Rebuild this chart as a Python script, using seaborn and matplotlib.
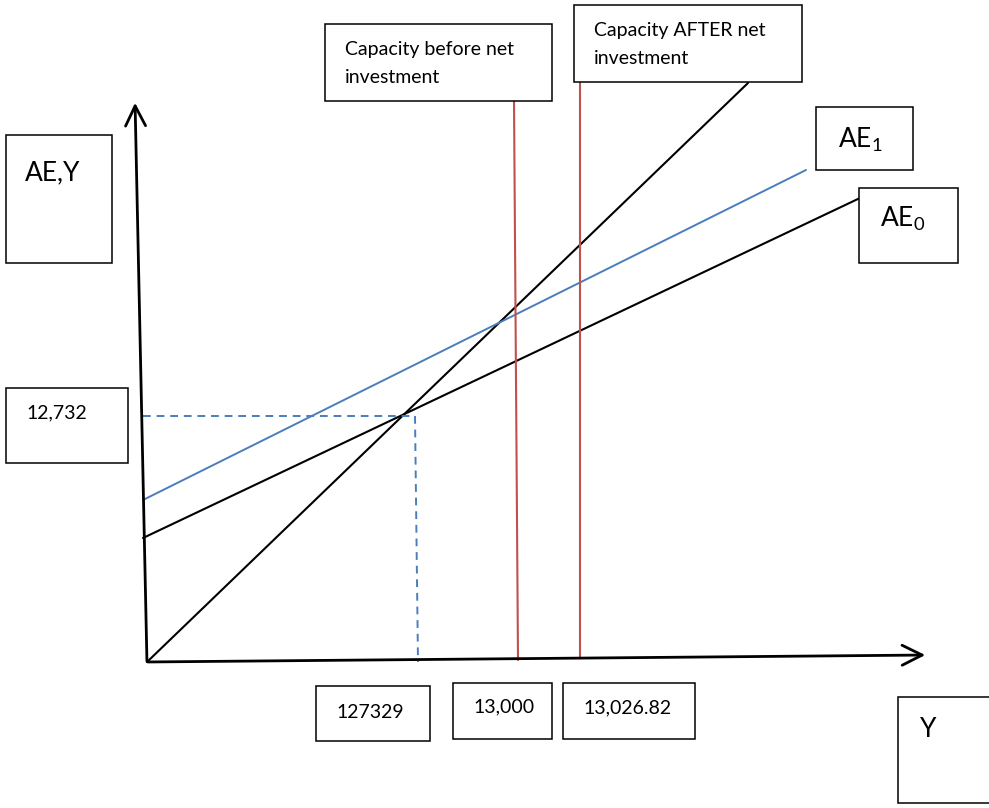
import matplotlib
matplotlib.use("Agg")
import matplotlib.pyplot as plt
import seaborn as sns
import pandas as pd
from matplotlib.patches import Rectangle

sns.set_theme(style="white")
plt.rcParams['font.family'] = ['Lato', 'DejaVu Sans']
plt.rcParams['text.color'] = 'black'
plt.rcParams['mathtext.fontset'] = 'custom'
plt.rcParams['mathtext.rm'] = 'Lato'
plt.rcParams['mathtext.it'] = 'Lato'

# Diagram drawn in a canvas coordinate system (x right, y down), 989 x 808 units
# Curves: (x0, y0, x1, y1)
line_names = ["45° line", "AE0", "AE1", "Capacity before", "Capacity after"]
line_x0 = [147, 143, 143, 514, 580]
line_y0 = [662, 538, 500, 100, 83]
line_x1 = [748, 860, 806, 518, 580]
line_y1 = [83, 198, 170, 660, 658]
line_colors = ["black", "black", "#4a7ebb", "#c0504d", "#c0504d"]

# Labels: text, box (x, y, w, h), text anchor (x, y, vertical alignment), font size
box_texts = ["AE,Y", "12,732", "127329", "13,000", "13,026.82", "Y",
             "Capacity before net\ninvestment", "Capacity AFTER net\ninvestment",
             "AE$_1$", "AE$_0$"]
box_x = [6, 6, 316, 453, 563, 898, 325, 574, 816, 859]
box_y = [135, 388, 686, 683, 683, 697, 24, 5, 107, 188]
box_w = [106, 122, 114, 99, 132, 95, 227, 228, 97, 99]
box_h = [128, 75, 55, 56, 56, 106, 77, 77, 63, 75]
text_x = [25, 26, 336, 473, 583, 920, 345, 594, 838, 880]
text_y = [180, 413, 712, 707, 708, 737, 63.5, 44.5, 148, 227]
text_va = ["baseline", "center", "center", "center", "center", "baseline",
           "center", "center", "baseline", "baseline"]
text_size = [19, 14, 14, 14, 14, 19, 14, 14, 19, 19]

fig = plt.figure(figsize=(9.89, 8.08), dpi=100)
ax = fig.add_axes([0, 0, 1, 1])
ax.set_xlim(0, 989)
ax.set_ylim(808, 0)
ax.axis("off")

# axes of the diagram
ax.annotate("", xy=(135, 100), xytext=(147, 664),
            arrowprops=dict(arrowstyle="->,head_length=1.2,head_width=0.6", color="black", lw=2))
ax.annotate("", xy=(928, 655), xytext=(145, 662),
            arrowprops=dict(arrowstyle="->,head_length=1.2,head_width=0.6", color="black", lw=2))

for name, x0, y0, x1, y1, c in zip(line_names, line_x0, line_y0, line_x1, line_y1, line_colors):
    df = pd.DataFrame({"x": [x0, x1], "y": [y0, y1]})
    sns.lineplot(data=df, x="x", y="y", ax=ax, color=c, lw=1.5 if c != "#4a7ebb" else 1.4,
                 sort=False, estimator=None)

# dashed equilibrium guides
eq_x, eq_y = 415, 416
sns.lineplot(x=[143, eq_x], y=[eq_y, eq_y], ax=ax, color="#4a7ebb", lw=1.4,
             linestyle=(0, (4, 3)), sort=False, estimator=None)
sns.lineplot(x=[eq_x, 418], y=[eq_y, 662], ax=ax, color="#4a7ebb", lw=1.4,
             linestyle=(0, (4, 3)), sort=False, estimator=None)

for t, bx, by, bw, bh, tx, ty, va, fs in zip(box_texts, box_x, box_y, box_w, box_h,
                                             text_x, text_y, text_va, text_size):
    ax.add_patch(Rectangle((bx, by), bw, bh, facecolor="white", edgecolor="black", lw=1.1, zorder=3))
    ax.text(tx, ty, t, fontsize=fs, ha="left", va=va, zorder=4, linespacing=1.75, color="black")

ax.set_xlabel("")
ax.set_ylabel("")
fig.savefig("out.png", dpi=100)
